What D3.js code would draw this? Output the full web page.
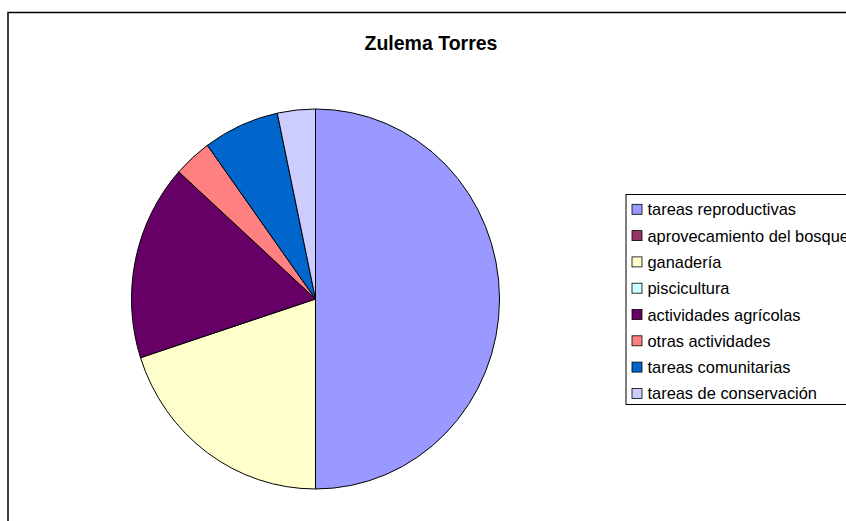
<!DOCTYPE html>
<html>
<head>
<meta charset="utf-8">
<script src="https://cdn.jsdelivr.net/npm/d3@7"></script>
<style>
  body { margin: 0; background: #fff; }
  text { font-family: "Liberation Sans", Arial, sans-serif; }
</style>
</head>
<body>
<script>
var width = 846,
    height = 521;

// data
var categories = ["tareas reproductivas", "aprovecamiento del bosque", "ganadería", "piscicultura",
                  "actividades agrícolas", "otras actividades", "tareas comunitarias", "tareas de conservación"];
var values = [15, 0, 6, 0, 5, 1, 2, 1];
var colors = ["#9999FF", "#993366", "#FFFFCC", "#CCFFFF", "#660066", "#FF8080", "#0066CC", "#CCCCFF"];
var title = "Zulema Torres";

var cx = 315.5, cy = 299,
    rx = 184, ry = 190;

var svg = d3.select("body")
  .append("svg")
  .attr("width", width)
  .attr("height", height);

// chart frame
svg.append("rect")
  .attr("x", 8)
  .attr("y", 12.5)
  .attr("width", 900)
  .attr("height", 600)
  .attr("fill", "none")
  .attr("stroke", "#000")
  .attr("stroke-width", 1.5);

svg.append("text")
  .attr("x", 431)
  .attr("y", 50)
  .attr("text-anchor", "middle")
  .attr("font-size", "19.5px")
  .attr("font-weight", "bold")
  .text(title);

var pie = d3.pie()
  .sort(null)
  .value(function(d) { return d; });

var arc = d3.arc()
  .innerRadius(0)
  .outerRadius(rx);

var g = svg.append("g")
  .attr("transform", "translate(" + cx + "," + cy + ") scale(1," + (ry / rx) + ")");

g.selectAll("path")
  .data(pie(values).filter(function(d) { return d.value > 0; }))
  .enter()
  .append("path")
  .attr("d", arc)
  .attr("fill", function(d) { return colors[d.index]; })
  .attr("stroke", "#000")
  .attr("stroke-width", 1)
  .attr("vector-effect", "non-scaling-stroke");

// legend
var legend = svg.append("g");

legend.append("rect")
  .attr("x", 626)
  .attr("y", 194.5)
  .attr("width", 300)
  .attr("height", 210)
  .attr("fill", "#fff")
  .attr("stroke", "#000")
  .attr("stroke-width", 1);

var rows = legend.selectAll(".row")
  .data(categories)
  .enter()
  .append("g")
  .attr("class", "row")
  .attr("transform", function(d, i) { return "translate(0," + (209.3 + i * 26.3) + ")"; });

rows.append("rect")
  .attr("x", 632)
  .attr("y", -5)
  .attr("width", 10)
  .attr("height", 10)
  .attr("fill", function(d, i) { return colors[i]; })
  .attr("stroke", "#000")
  .attr("stroke-width", 0.8);

rows.append("text")
  .attr("x", 647.5)
  .attr("y", 6)
  .attr("font-size", "16.4px")
  .text(function(d) { return d; });
</script>
</body>
</html>
